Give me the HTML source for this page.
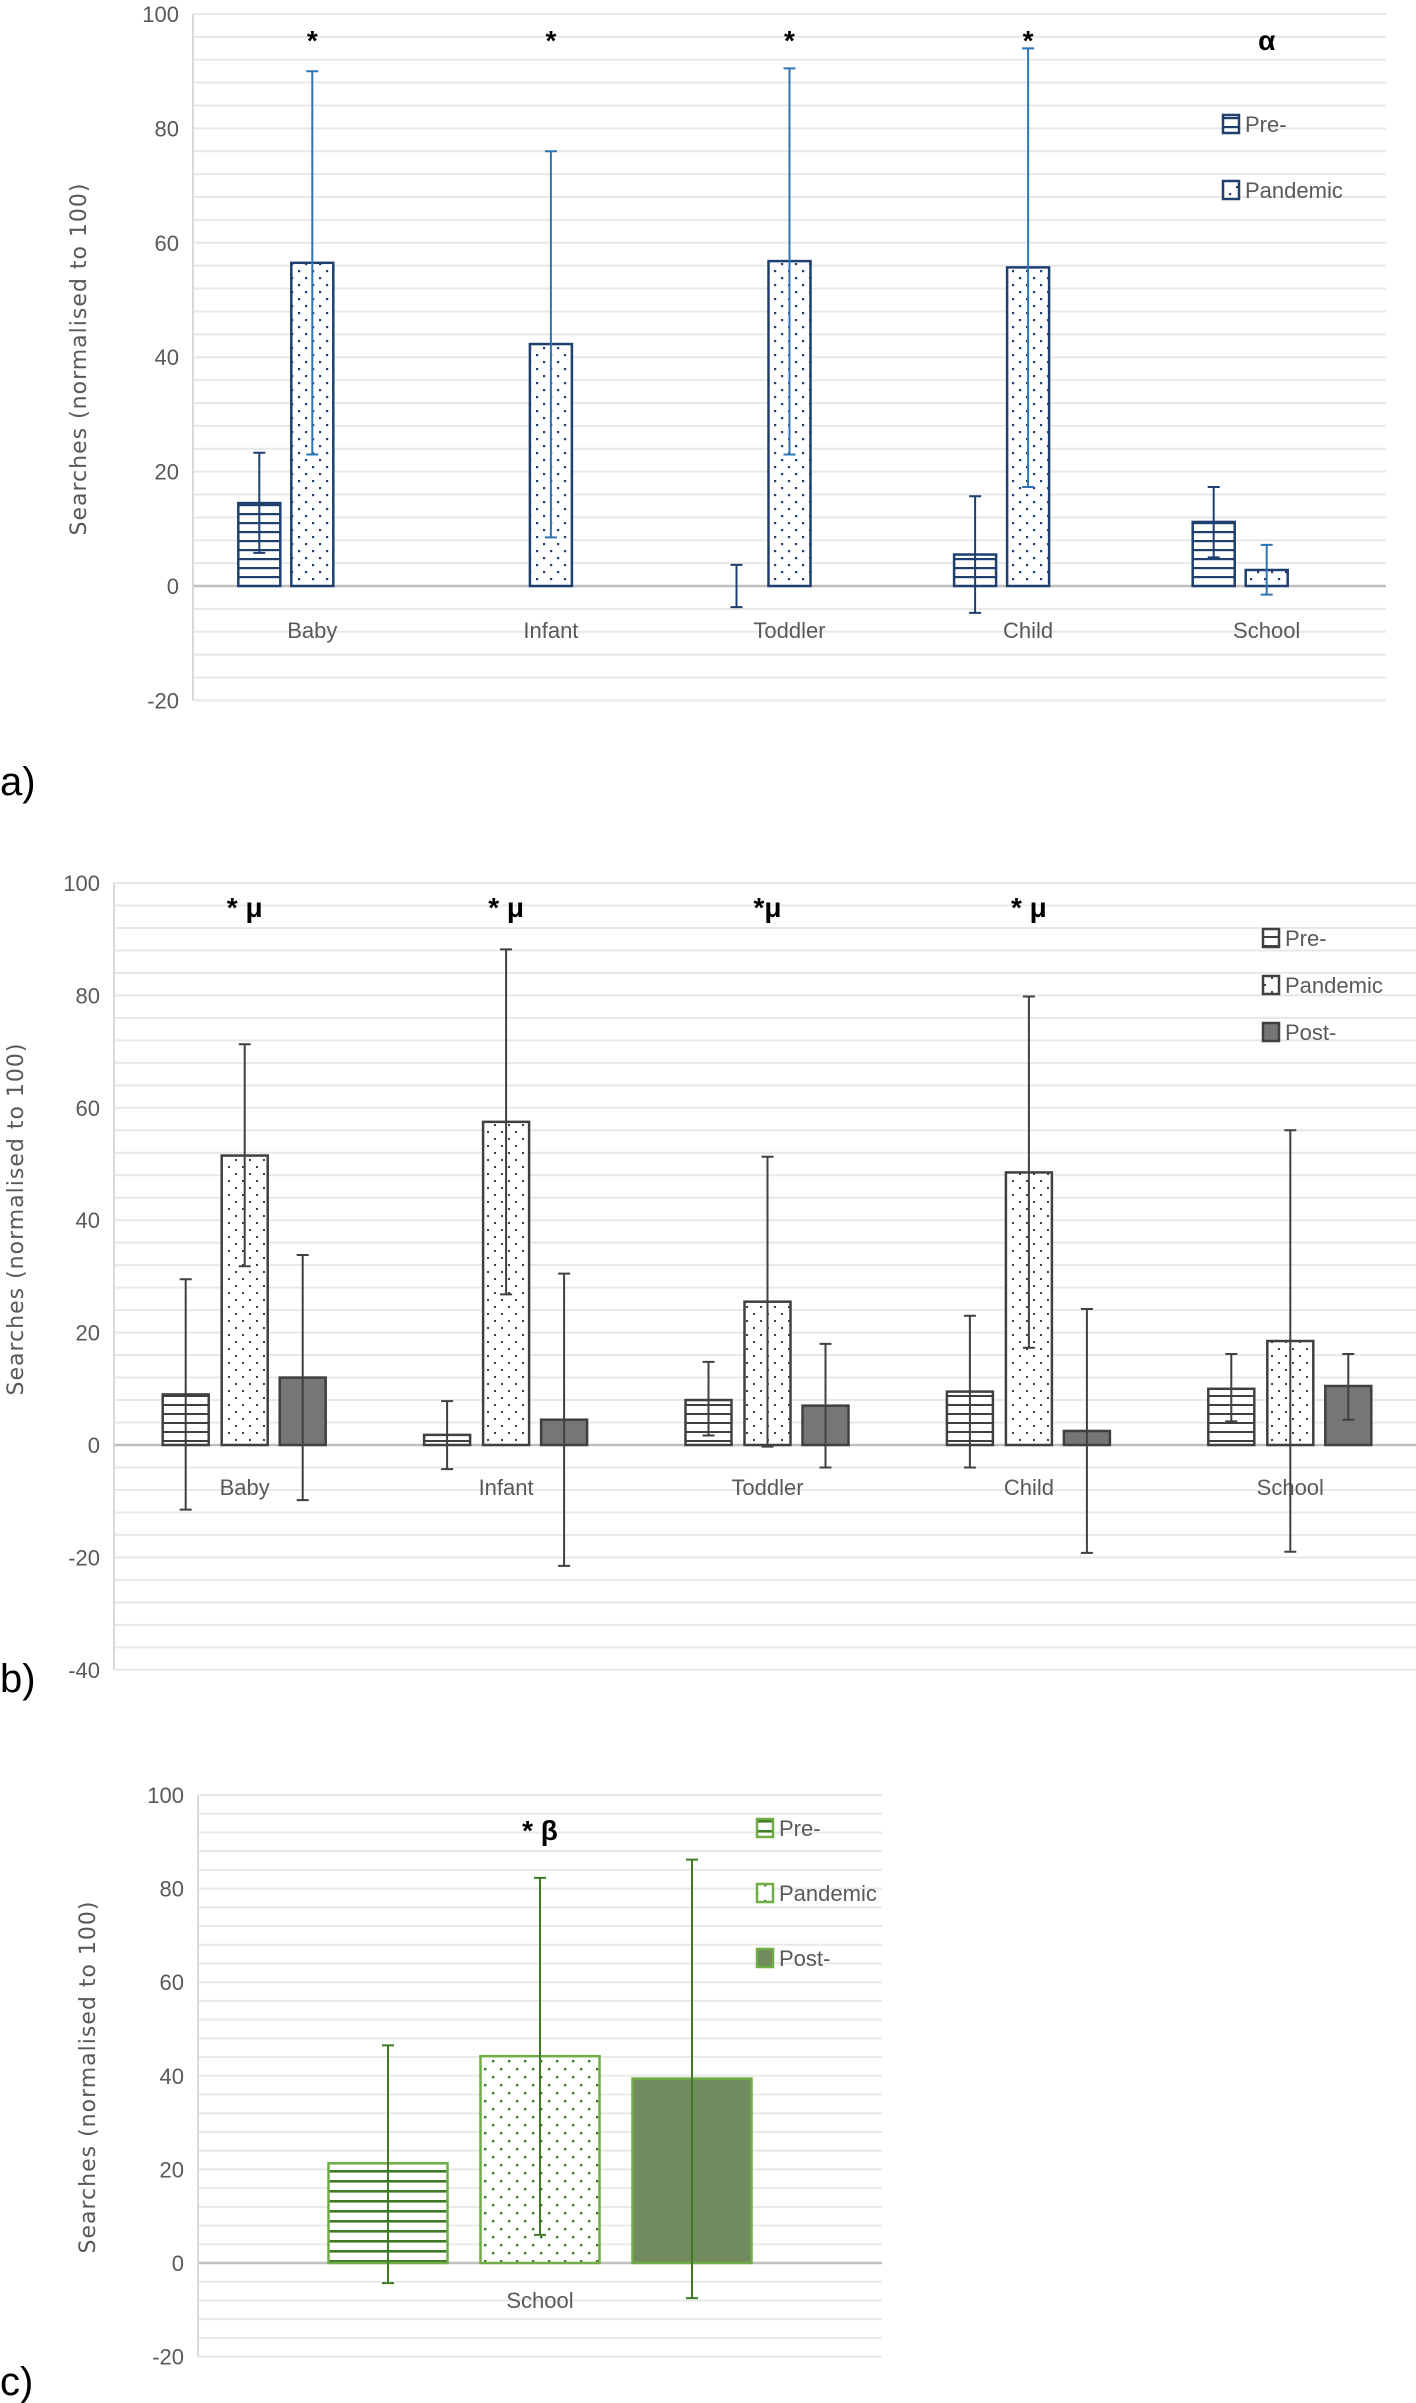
<!DOCTYPE html>
<html><head><meta charset="utf-8">
<style>
html,body{margin:0;padding:0;background:#fff;}
svg{display:block;}
text{font-family:"Liberation Sans",sans-serif;}
</style></head>
<body>
<svg id="fig" width="1416" height="2403" viewBox="0 0 1416 2403" xmlns="http://www.w3.org/2000/svg">
<defs>
<pattern id="hlA" width="8" height="9" patternUnits="userSpaceOnUse"><rect width="8" height="9" fill="#fff"/><rect y="0" width="8" height="2.2" fill="#1f3f6e"/></pattern>
<pattern id="dtA" width="14" height="14" patternUnits="userSpaceOnUse"><rect width="14" height="14" fill="#fff"/><rect x="4" y="4" width="2.2" height="2.2" fill="#1f3f6e"/><rect x="11" y="11" width="2.2" height="2.2" fill="#1f3f6e"/></pattern>
<pattern id="hlB" width="8" height="9" patternUnits="userSpaceOnUse"><rect width="8" height="9" fill="#fff"/><rect y="0" width="8" height="2" fill="#404040"/></pattern>
<pattern id="dtB" width="14" height="14" patternUnits="userSpaceOnUse"><rect width="14" height="14" fill="#fff"/><rect x="4" y="4" width="2" height="2" fill="#404040"/><rect x="11" y="11" width="2" height="2" fill="#404040"/></pattern>
<pattern id="hlC" width="8" height="10" patternUnits="userSpaceOnUse"><rect width="8" height="10" fill="#fff"/><rect y="0" width="8" height="2.6" fill="#3f7a26"/></pattern>
<pattern id="dtC" width="16" height="16" patternUnits="userSpaceOnUse"><rect width="16" height="16" fill="#fff"/><rect x="4" y="4" width="2.4" height="2.4" fill="#3f7a26"/><rect x="12" y="12" width="2.4" height="2.4" fill="#3f7a26"/></pattern>
</defs>
</svg>
<script>
// ---- Chart a data ----
const catsA = ["Baby","Infant","Toddler","Child","School"];
const preA = [14.5, null, 0, 5.5, 11.2];
const preAHi = [23.3, null, 3.7, 15.7, 17.3];
const preALo = [5.8, null, -3.7, -4.7, 5.0];
const panA = [56.5, 42.3, 56.8, 55.7, 2.8];
const panAHi = [90.0, 76.0, 90.5, 94.0, 7.2];
const panALo = [23.0, 8.5, 23.0, 17.3, -1.5];
const annA = ["*","*","*","*","α"];
const ticksA = [100,80,60,40,20,0,-20];
// ---- Chart b data ----
const catsB = ["Baby","Infant","Toddler","Child","School"];
const preB = [9.0, 1.8, 8.0, 9.5, 10.0];
const preBHi = [29.5, 7.8, 14.8, 23.0, 16.2];
const preBLo = [-11.5, -4.3, 1.7, -4.0, 4.2];
const panB = [51.5, 57.5, 25.5, 48.5, 18.5];
const panBHi = [71.3, 88.2, 51.3, 79.8, 56.0];
const panBLo = [31.8, 26.8, -0.3, 17.3, -19.0];
const postB = [12.0, 4.5, 7.0, 2.5, 10.5];
const postBHi = [33.8, 30.5, 18.0, 24.2, 16.2];
const postBLo = [-9.8, -21.5, -4.0, -19.2, 4.5];
const annB = ["* μ","* μ","*μ","* μ",""];
const ticksB = [100,80,60,40,20,0,-20,-40];
// ---- Chart c data ----
const catsC = ["School"];
const preC = [21.3];
const preCHi = [46.5];
const preCLo = [-4.3];
const panC = [44.2];
const panCHi = [82.3];
const panCLo = [6.0];
const postC = [39.4];
const postCHi = [86.2];
const postCLo = [-7.5];
const annC = ["* β"];
const ticksC = [100,80,60,40,20,0,-20];

const NS = "http://www.w3.org/2000/svg";
const svg = document.getElementById('fig');
function mk(tag, attrs, parent, txt){
  const e = document.createElementNS(NS, tag);
  for (const k in attrs) e.setAttribute(k, attrs[k]);
  if (txt !== undefined) e.textContent = txt;
  (parent || svg).appendChild(e);
  return e;
}

function chart(cfg){
  const g = mk('g', {});
  
  
  const y = v => cfg.y0 - (v * cfg.unit);
  const yTop = y(cfg.max), yBot = y(cfg.min);
  // minor gridlines every 4 units
  for (let v = cfg.min; v <= cfg.max + 0.01; v += 4){
    const l = mk('line', {x1: cfg.left, x2: cfg.right, y1: y(v), y2: y(v), stroke: v === 0 ? '#bfbfbf' : '#e8e8e8', 'stroke-width': v === 0 ? 2.5 : 2}, g);
    
    
  }
  const ax = mk('line', {x1: cfg.left, x2: cfg.left, y1: yTop, y2: yBot, stroke: '#d9d9d9', 'stroke-width': 2}, g);
  
  
  cfg.ticks.forEach(t => {
    const tx = mk('text', {x: cfg.left - 14, y: y(t) + 8, 'text-anchor': 'end', 'font-size': 22, fill: '#595959'}, g, String(t));
    
    
  });
  const yt = mk('text', {x: 0, y: 0, transform: `translate(${cfg.titleX},${cfg.titleY}) rotate(-90)`, 'text-anchor': 'middle', 'font-size': 22, fill: '#595959', style: 'font-family:"DejaVu Sans",sans-serif;letter-spacing:1px'}, g, 'Searches (normalised to 100)');
  
  
  const bandW = (cfg.right - cfg.left) / cfg.cats.length;
  cfg.cats.forEach((c, i) => {
    const cx = cfg.left + bandW * (i + 0.5) + cfg.catShift;
    const lab = mk('text', {x: cx, y: y(0) + cfg.catLabelDy, 'text-anchor': 'middle', 'font-size': 22, fill: '#595959'}, g, c);
    
    
    cfg.series.forEach(s => {
      const v = s.vals[i];
      if (v === null) return;
      const bx = cx + s.off - cfg.barW / 2;
      if (v > 0){
        const r = mk('rect', {x: bx, y: y(v), width: cfg.barW, height: y(0) - y(v), fill: s.fill, stroke: s.stroke, 'stroke-width': 2.5}, g);
        
        
      }
      if (s.hi[i] !== null){
        const ex = cx + s.off;
        const e = mk('path', {d: `M${ex},${y(s.hi[i])}V${y(s.lo[i])}M${ex-6},${y(s.hi[i])}H${ex+6}M${ex-6},${y(s.lo[i])}H${ex+6}`, stroke: s.err, 'stroke-width': 2, fill: 'none'}, g);
        
        
      }
    });
    if (cfg.ann[i]){
      const a = mk('text', {x: cx + cfg.annDx, y: cfg.annY, 'text-anchor': 'middle', 'font-size': 28, 'font-weight': 'bold', fill: '#000'}, g, cfg.ann[i]);
      
      
    }
  });
  cfg.series.forEach((s, k) => {
    const ly = cfg.legY[k];
    const sw = mk('rect', {x: cfg.legX, y: ly - 9, width: 16, height: 18, fill: s.fill, stroke: s.stroke, 'stroke-width': 2.5}, g);
    
    
    const lt = mk('text', {x: cfg.legX + 22, y: ly + 8, 'font-size': 22, fill: '#595959'}, g, s.label);
    
    
  });
  const pl = mk('text', {x: 0, y: cfg.panelY, 'font-size': 40, fill: '#000'}, g, cfg.panel);
  
  
}

chart({name:'chart-a', left:193, right:1386, y0:586, unit:5.72, max:100, min:-20, ticks:ticksA,
  titleX:86, titleY:359, cats:catsA, catShift:0, catLabelDy:52, barW:42, ann:annA, annY:50, annDx:0,
  legX:1223, legY:[124,190], panel:'a)', panelY:795,
  series:[
    {key:'pre', label:'Pre-', vals:preA, hi:preAHi, lo:preALo, off:-53, fill:'url(#hlA)', stroke:'#1f3f6e', err:'#1f3f6e'},
    {key:'pandemic', label:'Pandemic', vals:panA, hi:panAHi, lo:panALo, off:0, fill:'url(#dtA)', stroke:'#1f3f6e', err:'#2e75b6'}
  ]});

chart({name:'chart-b', left:114, right:1421, y0:1445, unit:5.62, max:100, min:-40, ticks:ticksB,
  titleX:23, titleY:1219, cats:catsB, catShift:0, catLabelDy:50, barW:46, ann:annB, annY:917, annDx:0,
  legX:1263, legY:[938,985,1032], panel:'b)', panelY:1692,
  series:[
    {key:'pre', label:'Pre-', vals:preB, hi:preBHi, lo:preBLo, off:-59, fill:'url(#hlB)', stroke:'#404040', err:'#404040'},
    {key:'pandemic', label:'Pandemic', vals:panB, hi:panBHi, lo:panBLo, off:0, fill:'url(#dtB)', stroke:'#404040', err:'#404040'},
    {key:'post', label:'Post-', vals:postB, hi:postBHi, lo:postBLo, off:58, fill:'#767676', stroke:'#404040', err:'#404040'}
  ]});

chart({name:'chart-c', left:198, right:882, y0:2263, unit:4.68, max:100, min:-20, ticks:ticksC,
  titleX:95, titleY:2077, cats:catsC, catShift:0, catLabelDy:45, barW:119, ann:annC, annY:1840, annDx:0,
  legX:757, legY:[1828,1893,1958], panel:'c)', panelY:2395,
  series:[
    {key:'pre', label:'Pre-', vals:preC, hi:preCHi, lo:preCLo, off:-152, fill:'url(#hlC)', stroke:'#70ad47', err:'#3f7a26'},
    {key:'pandemic', label:'Pandemic', vals:panC, hi:panCHi, lo:panCLo, off:0, fill:'url(#dtC)', stroke:'#70ad47', err:'#3f7a26'},
    {key:'post', label:'Post-', vals:postC, hi:postCHi, lo:postCLo, off:152, fill:'#718b5f', stroke:'#70ad47', err:'#3f7a26'}
  ]});
</script>
</body></html>
